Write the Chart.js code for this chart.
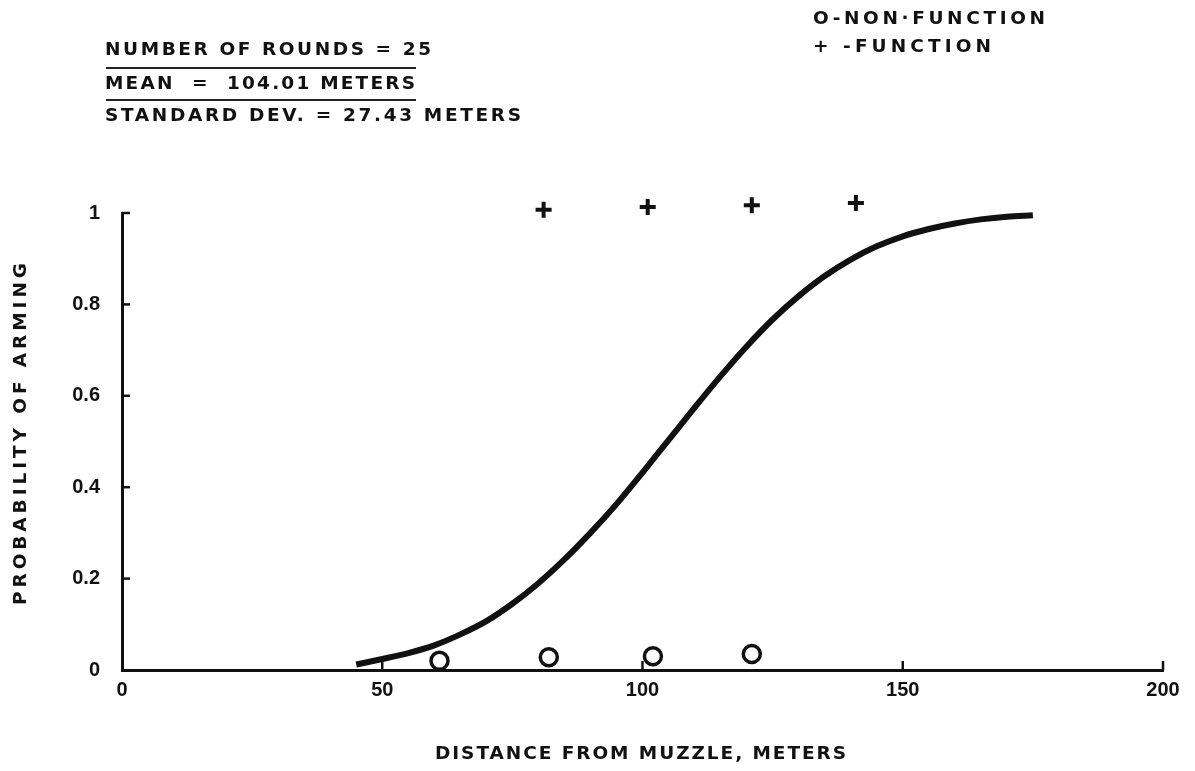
<!DOCTYPE html>
<html>
<head>
<meta charset="utf-8">
<script src="https://cdn.jsdelivr.net/npm/chart.js@4/dist/chart.umd.min.js"></script>
<style>
  html, body { margin: 0; padding: 0; background: #fff; }
  #wrap { position: relative; width: 1195px; height: 771px; overflow: hidden; }
  #c { position: absolute; left: 0; top: 0; }
  .t { position: absolute; font-family: "DejaVu Sans", "Liberation Sans", Arial, sans-serif; font-weight: bold; font-size: 18.5px; color: #111; white-space: nowrap; line-height: 1; }
  .u { position: absolute; height: 1.5px; background: #222; }
</style>
</head>
<body>
<div id="wrap">
  <canvas id="c" width="1195" height="771"></canvas>
  <div class="t" id="s1" data-w="326" style="left:105px; top:40px;">NUMBER OF ROUNDS = 25</div>
  <div class="u" style="left:106px; top:67px; width:310px;"></div>
  <div class="t" id="s2" data-w="310" style="left:105px; top:74px;">MEAN&nbsp;&nbsp;=&nbsp;&nbsp;104.01 METERS</div>
  <div class="u" style="left:106px; top:99px; width:310px;"></div>
  <div class="t" id="s3" data-w="416" style="left:105px; top:106px;">STANDARD DEV. = 27.43 METERS</div>
  <div class="t" id="l1" data-w="232" style="left:813px; top:9px;">O-NON·FUNCTION</div>
  <div class="t" id="l2" data-w="178" style="left:813px; top:37px;">+ -FUNCTION</div>
  <div class="t" id="xt" data-w="411" style="left:435px; top:744px;">DISTANCE FROM MUZZLE, METERS</div>
  <div class="t" id="yt" data-w="342" style="left:20px; top:434px; transform-origin:0 0;">PROBABILITY OF ARMING</div>
</div>
<script>
// ---- data ----
const curveX = [45, 50, 55, 60, 65, 70, 75, 80, 85, 90, 95, 100, 105, 110, 115, 120, 125, 130, 135, 140, 145, 150, 155, 160, 165, 170, 175];
const curveY = [0.012, 0.024, 0.037, 0.054, 0.078, 0.107, 0.145, 0.19, 0.242, 0.3, 0.363, 0.432, 0.503, 0.574, 0.643, 0.708, 0.767, 0.818, 0.862, 0.898, 0.927, 0.949, 0.965, 0.977, 0.986, 0.992, 0.995];
const nonFunctionX = [61, 82, 102, 121];
const nonFunctionY = [0.02, 0.028, 0.03, 0.035];
const functionX = [81, 101, 121, 141];
const functionY = [1.007, 1.013, 1.017, 1.022];
const xTicks = [0, 50, 100, 150, 200];
const yTicks = [0, 0.2, 0.4, 0.6, 0.8, 1];

const pts = (xs, ys) => xs.map((x, i) => ({ x: x, y: ys[i] }));

// fit text blocks to measured widths using letter spacing
(function fitTexts() {
  const cv = document.createElement('canvas').getContext('2d');
  document.querySelectorAll('.t').forEach(el => {
    const target = +el.dataset.w;
    const cs = getComputedStyle(el);
    cv.font = cs.fontWeight + ' ' + cs.fontSize + ' ' + cs.fontFamily;
    const txt = el.textContent;
    const w = cv.measureText(txt).width;
    const n = txt.length;
    const ls = (target - w) / Math.max(1, n - 1);
    el.style.letterSpacing = ls.toFixed(2) + 'px';
    if (el.id === 'yt') {
      const h = 18.5;
      el.style.left = (20 - h / 2) + 'px';
      el.style.top = (434 + target / 2) + 'px';
      el.style.transform = 'rotate(-90deg)';
    }
  });
})();

const tickFont = { family: '"Liberation Sans", Arial, sans-serif', size: 20, weight: 'bold' };

const innerTicks = {
  id: 'innerTicks',
  afterDatasetsDraw(chart) {
    const { ctx, scales: { x, y } } = chart;
    ctx.save();
    ctx.strokeStyle = '#111';
    ctx.lineWidth = 2.5;
    yTicks.forEach(v => {
      if (v === 0) return;
      const py = y.getPixelForValue(v);
      ctx.beginPath();
      ctx.moveTo(x.left, py);
      ctx.lineTo(x.left + 8, py);
      ctx.stroke();
    });
    xTicks.forEach(v => {
      if (v === 0) return;
      const px = x.getPixelForValue(v);
      ctx.beginPath();
      ctx.moveTo(px, y.bottom);
      ctx.lineTo(px, y.bottom - 9);
      ctx.stroke();
    });
    ctx.restore();
  }
};

new Chart(document.getElementById('c'), {
  type: 'scatter',
  data: {
    datasets: [
      {
        label: 'Fitted curve',
        data: pts(curveX, curveY),
        showLine: true,
        borderColor: '#111',
        borderWidth: 6,
        pointRadius: 0,
        cubicInterpolationMode: 'monotone',
        clip: false
      },
      {
        label: 'NON-FUNCTION',
        data: pts(nonFunctionX, nonFunctionY),
        pointStyle: 'circle',
        pointRadius: 8.5,
        borderWidth: 3.5,
        borderColor: '#111',
        backgroundColor: '#fff',
        clip: false
      },
      {
        label: 'FUNCTION',
        data: pts(functionX, functionY),
        pointStyle: 'crossRot',
        rotation: 45,
        pointRadius: 8,
        borderWidth: 4,
        borderColor: '#111',
        clip: false
      }
    ]
  },
  options: {
    responsive: false,
    animation: false,
    devicePixelRatio: 1,
    layout: { padding: { top: 213, right: 32, left: 0, bottom: 0 } },
    plugins: { legend: { display: false }, tooltip: { enabled: false } },
    scales: {
      x: {
        type: 'linear',
        min: 0, max: 200,
        afterFit: s => { s.height = 101; },
        afterBuildTicks: s => { s.ticks = xTicks.map(v => ({ value: v })); },
        grid: { display: false },
        border: { display: true, color: '#111', width: 3 },
        ticks: { color: '#111', font: tickFont, padding: 0, maxRotation: 0 }
      },
      y: {
        type: 'linear',
        min: 0, max: 1,
        afterFit: s => { s.width = 122; },
        afterBuildTicks: s => { s.ticks = yTicks.map(v => ({ value: v })); },
        grid: { display: false },
        border: { display: true, color: '#111', width: 3 },
        ticks: { color: '#111', font: tickFont, padding: 14, callback: v => (v === 0 || v === 1) ? String(v) : v.toFixed(1) }
      }
    }
  },
  plugins: [innerTicks]
});
</script>
</body>
</html>
